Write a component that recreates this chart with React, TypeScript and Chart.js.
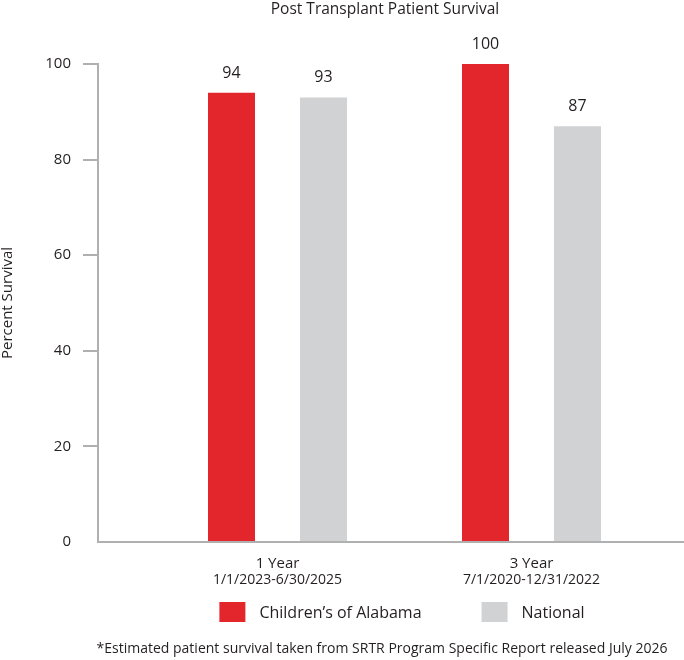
import React, { useEffect, useRef } from 'react';
import { Chart, registerables } from 'chart.js';

Chart.register(...registerables);

// ---- data ----
const CHART_TITLE = 'Post Transplant Patient Survival';
const CATEGORIES = ['1 Year', '3 Year'];
const DATE_RANGES = ['1/1/2023-6/30/2025', '7/1/2020-12/31/2022'];
const SERIES_NAMES = ['Children\u2019s of Alabama', 'National'];
const CHILDRENS_VALUES = [94, 100];
const NATIONAL_VALUES = [93, 87];
const Y_TICKS = [0, 20, 40, 60, 80, 100];
const Y_TITLE = 'Percent Survival';
const FOOTNOTE = '*Estimated patient survival taken from SRTR Program Specific Report released July 2026';

// ---- style ----
const FONT = '"Open Sans", sans-serif';
const RED = '#E3262B';
const GRAY = '#D1D2D4';
const AXIS = '#B0B0B0';
const TEXT = '#231F20';

const boxPlacement = {
  id: 'boxPlacement',
  afterLayout(chart: any) {
    const tb = chart.titleBlock;
    if (tb) {
      const c = 385;
      tb.left = c - 300;
      tb.right = c + 300;
    }
    chart.boxes.forEach((b: any) => {
      if (b && b.options && b.options.text === FOOTNOTE) {
        const c = 382;
        b.left = c - 340;
        b.right = c + 340;
      }
    });
  },
};

const valueLabels = {
  id: 'valueLabels',
  afterDatasetsDraw(chart: any) {
    const ctx = chart.ctx;
    ctx.save();
    ctx.font = `16px ${FONT}`;
    ctx.fillStyle = TEXT;
    ctx.textAlign = 'center';
    ctx.textBaseline = 'alphabetic';
    chart.data.datasets.forEach((ds: any, di: number) => {
      const meta = chart.getDatasetMeta(di);
      meta.data.forEach((el: any, i: number) => {
        const v = ds.data[i].y;
        ctx.fillText(String(v), el.x, el.y - 15);
      });
    });
    ctx.restore();
  },
};

const extras = {
  id: 'extras',
  afterDraw(chart: any) {
    const ctx = chart.ctx;
    const xs = chart.scales.x;
    ctx.save();
    // date ranges under category labels
    ctx.font = `14px ${FONT}`;
    ctx.fillStyle = TEXT;
    ctx.textAlign = 'center';
    ctx.textBaseline = 'middle';
    DATE_RANGES.forEach((d, i) => {
      ctx.fillText(d, xs.getPixelForValue(i), xs.top + 38.5);
    });
    // legend
    const boxW = 26;
    const boxH = 20;
    const gap = 14;
    const spacing = 60;
    ctx.font = `16px ${FONT}`;
    const items = chart.data.datasets.map((ds: any) => ({
      label: ds.label as string,
      color: ds.backgroundColor as string,
    }));
    const widths = items.map((it: any) => boxW + gap + ctx.measureText(it.label).width);
    const total = widths.reduce((a: number, b: number) => a + b, 0) + spacing * (items.length - 1);
    const legendCenter = 402;
    let x = legendCenter - total / 2;
    const yTop = xs.top + 60;
    ctx.textAlign = 'left';
    items.forEach((it: any, i: number) => {
      ctx.fillStyle = it.color;
      ctx.fillRect(x, yTop, boxW, boxH);
      ctx.fillStyle = TEXT;
      ctx.fillText(it.label, x + boxW + gap, yTop + boxH / 2 + 1);
      x += widths[i] + spacing;
    });
    ctx.restore();
  },
};

export default function App() {
  const canvasRef = useRef<HTMLCanvasElement | null>(null);

  useEffect(() => {
    const canvas = canvasRef.current;
    if (!canvas) return;
    Chart.defaults.font.family = FONT;
    Chart.defaults.color = TEXT;

    const groupWidth = 184; // px occupied by a group
    const catSpacing = 254; // px between category centres
    const chart = new Chart(canvas, {
      type: 'bar',
      data: {
        datasets: [
          {
            label: SERIES_NAMES[0],
            data: CHILDRENS_VALUES.map((y, i) => ({ x: i, y })),
            backgroundColor: RED,
            borderWidth: 0,
            categoryPercentage: groupWidth / catSpacing,
            barPercentage: 47 / 92,
          },
          {
            label: SERIES_NAMES[1],
            data: NATIONAL_VALUES.map((y, i) => ({ x: i, y })),
            backgroundColor: GRAY,
            borderWidth: 0,
            categoryPercentage: groupWidth / catSpacing,
            barPercentage: 47 / 92,
          },
        ] as any,
      },
      options: {
        responsive: false,
        maintainAspectRatio: false,
        animation: false,
        layout: { padding: { left: 0, right: 0, top: 0, bottom: 0 } },
        plugins: {
          legend: { display: false },
          tooltip: { enabled: false },
          title: {
            display: true,
            text: CHART_TITLE,
            color: TEXT,
            font: { size: 15.5, weight: 'normal', family: FONT, lineHeight: 1.2 },
            padding: { top: 0, bottom: 45.4 },
          },
          subtitle: {
            display: true,
            position: 'bottom',
            text: FOOTNOTE,
            color: TEXT,
            font: { size: 14, weight: 'normal', family: FONT, lineHeight: 1.2 },
            padding: { top: 0, bottom: 3 },
          },
        },
        scales: {
          x: {
            type: 'linear',
            offset: false,
            min: -(277.5 - 98) / catSpacing,
            max: 1 + (684 - 531.5) / catSpacing,
            z: 1,
            grid: { display: false, drawTicks: false, offset: false },
            border: { display: true, color: AXIS, width: 2 },
            afterBuildTicks: (scale: any) => {
              scale.ticks = CATEGORIES.map((_, i) => ({ value: i }));
            },
            afterFit: (scale: any) => {
              scale.height = 98.2;
            },
            ticks: {
              autoSkip: false,
              maxRotation: 0,
              padding: 12.5,
              color: TEXT,
              font: { size: 15, family: FONT },
              callback: (v: any) => CATEGORIES[Math.round(Number(v))] ?? '',
            },
          },
          y: {
            type: 'linear',
            min: 0,
            max: 100,
            afterBuildTicks: (scale: any) => {
              scale.ticks = Y_TICKS.map((v) => ({ value: v }));
            },
            afterFit: (scale: any) => {
              scale.width = 98;
            },
            grid: {
              display: true,
              drawOnChartArea: false,
              drawTicks: true,
              tickLength: 15,
              lineWidth: 2,
              color: (ctx: any) => (ctx.tick && ctx.tick.value === 0 ? 'rgba(0,0,0,0)' : AXIS),
            },
            border: { display: true, color: AXIS, width: 2 },
            ticks: {
              padding: 12,
              color: TEXT,
              font: { size: 15, family: FONT },
            },
            title: {
              display: true,
              text: Y_TITLE,
              color: TEXT,
              font: { size: 15, family: FONT, lineHeight: 1 },
              padding: { top: 0, bottom: 0 },
            },
          },
        },
      } as any,
      plugins: [boxPlacement, valueLabels, extras],
    });
    return () => chart.destroy();
  }, []);

  return (
    <div style={{ position: 'absolute', left: 0, top: 0, width: 684, height: 660, background: '#fff' }}>
      <canvas ref={canvasRef} width={684} height={660} style={{ display: 'block' }} />
    </div>
  );
}
